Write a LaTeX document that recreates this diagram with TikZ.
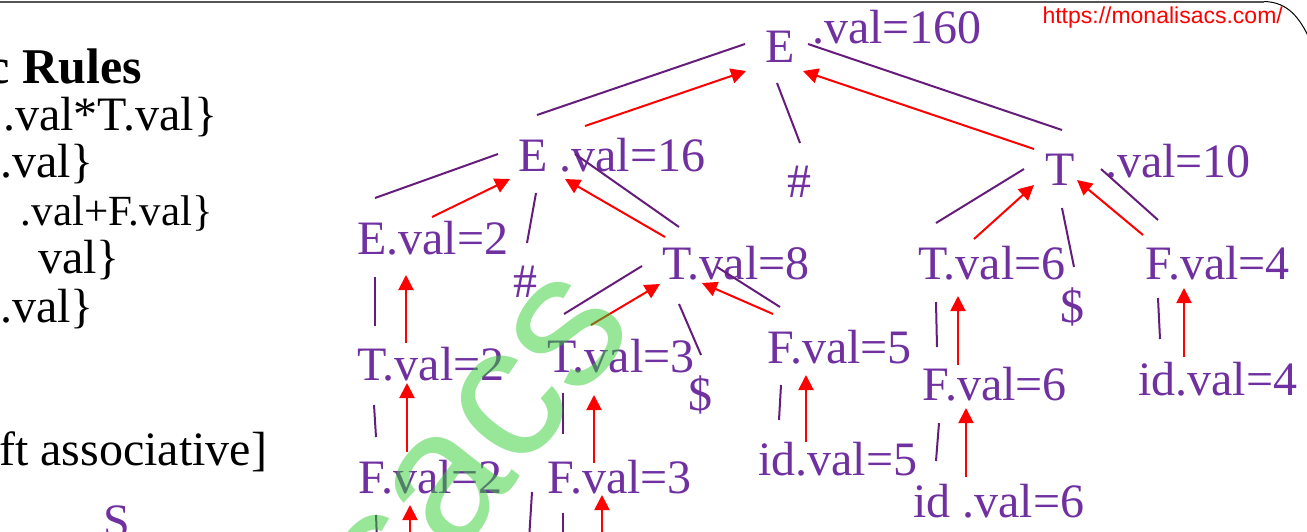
\documentclass[tikz,border=0pt]{standalone}
\usepackage{fontspec}
\setmainfont{Liberation Serif}
\setsansfont{Liberation Sans}
\usetikzlibrary{arrows.meta}
\definecolor{tpurple}{RGB}{112,48,160}
\definecolor{lpurple}{RGB}{102,28,122}
\definecolor{wmgreen}{RGB}{50,205,50}
\definecolor{bordergray}{RGB}{85,85,85}
\tikzset{
  lbl/.style={anchor=base west, inner sep=0pt, text=tpurple, font=\fontsize{48}{52}\selectfont},
  rulesty/.style={anchor=base west, inner sep=0pt, text=black, font=\fontsize{48}{52}\selectfont},
  pline/.style={draw=lpurple, line width=2pt},
  rarr/.style={draw=red, line width=2pt, -{Triangle[length=15pt,width=15pt]}},
}
\begin{document}
\begin{tikzpicture}[x=1pt,y=-1pt]
\useasboundingbox (0,0) rectangle (1307,531);
\clip (0,0) rectangle (1307,531);
% border
\draw[bordergray, line width=2.5pt] (0,2) -- (1264,2);
\draw[black, line width=1pt] (1264,1.5) .. controls (1288,2) and (1300,18) .. (1310,40);
\node[anchor=base east, inner sep=0pt, text=red, font=\fontsize{23}{26}\sffamily] (url) at (1283,23) {https://monalisacs.com/};
% left text
\node[anchor=base east, inner sep=0pt, font=\fontsize{50}{55}\selectfont\bfseries] (title) at (142,83) {c Rules};
\node[rulesty] (r1) at (3,130) {.val*T.val\}};
\node[rulesty] (r2) at (0,177) {.val\}};
\node[rulesty, anchor=base east, font=\fontsize{43}{50}\selectfont] (r3) at (213,225) {.val+F.val\}};
\node[rulesty] (r4) at (38,273) {val\}};
\node[rulesty] (r5) at (0,322) {.val\}};
\node[rulesty] (r6) at (-1,465) {ft associative]};
\node[lbl] (S) at (103,537) {S};
% tree labels
\node[lbl] (rootE) at (765,62) {E};
\node[lbl] (rootV) at (812,43) {.val=160};
\node[lbl] (e16) at (518,171) {E .val=16};
\node[lbl] (hashA) at (787,197) {\#};
\node[lbl] (t10T) at (1045,185) {T};
\node[lbl] (t10V) at (1105,177) {.val=10};
\node[lbl] (e2) at (357,254) {E.val=2};
\node[lbl] (hashB) at (513,297) {\#};
\node[lbl] (t8) at (662,279) {T.val=8};
\node[lbl] (t6) at (918,279) {T.val=6};
\node[lbl] (f4) at (1145,279) {F.val=4};
\node[lbl] (dolA) at (1060,322) {\$};
\node[lbl] (t2) at (357,380) {T.val=2};
\node[lbl] (t3) at (547,372) {T.val=3};
\node[lbl] (dolB) at (688,410) {\$};
\node[lbl] (f5) at (767,363) {F.val=5};
\node[lbl] (f6) at (922,400) {F.val=6};
\node[lbl] (id4) at (1138,395) {id.val=4};
\node[lbl] (id5) at (758,475) {id.val=5};
\node[lbl] (id6) at (913,517) {id .val=6};
\node[lbl] (f2) at (358,493) {F.val=2};
\node[lbl] (f3) at (547,493) {F.val=3};
% purple tree lines
\foreach \n/\a/\b in {
  1/{537,115}/{745,44}, 2/{777,83}/{800,143}, 3/{808,44}/{1062,130},
  4/{498,154}/{375,198}, 5/{536,193}/{527,243}, 6/{575,154}/{679,227},
  7/{1024,169}/{936,223}, 8/{1062,208}/{1074,267}, 9/{1101,169}/{1158,220},
  10/{642,266}/{564,314}, 11/{679,304}/{701,355}, 12/{717,267}/{780,307},
  13/{375,277}/{375,326}, 14/{374,405}/{376,437}, 15/{376,515}/{377,540},
  16/{563,393}/{563,434}, 17/{563,513}/{563,540}, 18/{532,492}/{529,540},
  19/{781,385}/{779,420}, 20/{936,302}/{937,347}, 21/{939,423}/{936,461},
  22/{1158,298}/{1160,339}}{
  \coordinate (pa\n) at (\a);
  \coordinate (pb\n) at (\b);
  \draw[pline] (pa\n) -- (pb\n);
}
% red arrows
\foreach \n/\a/\b in {
  1/{585,126}/{746,71}, 2/{1034,149}/{803,71}, 3/{432,217}/{510,179},
  4/{665,237}/{565,179}, 5/{974,239}/{1034,185}, 6/{1143,235}/{1077,180},
  7/{591,325}/{660,284}, 8/{773,314}/{702,283}, 9/{406,343}/{406,275},
  10/{407,452}/{407,383}, 11/{410,540}/{410,505}, 12/{594,463}/{594,395},
  13/{602,540}/{602,495}, 14/{806,442}/{806,375}, 15/{958,365}/{958,296},
  16/{966,477}/{966,408}, 17/{1184,357}/{1184,288}}{
  \coordinate (ra\n) at (\a);
  \coordinate (rb\n) at (\b);
  \draw[rarr] (ra\n) -- (rb\n);
}
% watermark
\node[rotate=52, anchor=base east, inner sep=0pt, text=wmgreen, text opacity=0.5, font=\fontsize{190}{190}\sffamily] (wm) at (638,326) {lisacs};
\end{tikzpicture}
\end{document}
